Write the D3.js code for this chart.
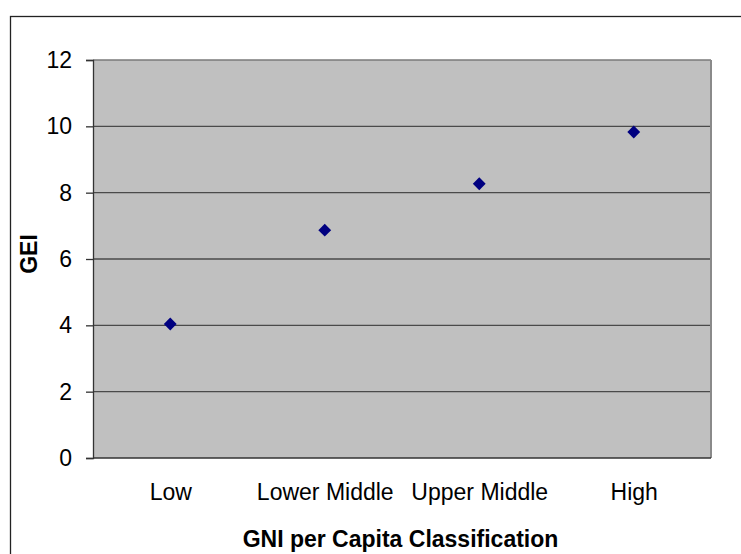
<!DOCTYPE html>
<html>
<head>
<meta charset="utf-8">
<script src="https://cdn.jsdelivr.net/npm/d3@7"></script>
<style>
  body { margin: 0; background: #fff; }
  svg { display: block; font-family: "Liberation Sans", Arial, sans-serif; }
</style>
</head>
<body>
<div id="chart"></div>
<script>
// data
const categories = ['Low', 'Lower Middle', 'Upper Middle', 'High'];
const geiValues = [4.04, 6.87, 8.27, 9.83];
const yTicks = [0, 2, 4, 6, 8, 10, 12];

const WIDTH = 741, HEIGHT = 554;
const PLOT = {left: 93, top: 60, right: 711, bottom: 458};

const svg = d3.select('#chart')
  .append('svg')
  .attr('width', WIDTH)
  .attr('height', HEIGHT);

// outer chart border (runs off the right and bottom of the window)
svg.append('rect')
  .attr('x', 10.5).attr('y', 16.5)
  .attr('width', 800).attr('height', 600)
  .attr('fill', '#fff')
  .attr('stroke', '#222')
  .attr('stroke-width', 1.3);

const xScale = d3.scalePoint()
  .domain(categories)
  .range([PLOT.left, PLOT.right])
  .padding(0.5);

const yScale = d3.scaleLinear()
  .domain([0, 12])
  .range([PLOT.bottom, PLOT.top]);

// plot area
svg.append('rect')
  .attr('x', PLOT.left).attr('y', PLOT.top)
  .attr('width', PLOT.right - PLOT.left)
  .attr('height', PLOT.bottom - PLOT.top)
  .attr('fill', '#c0c0c0');

// horizontal gridlines
svg.append('g')
  .selectAll('line')
  .data(yTicks.filter(d => d > 0 && d < 12))
  .enter()
  .append('line')
    .attr('x1', PLOT.left).attr('x2', PLOT.right)
    .attr('y1', d => yScale(d)).attr('y2', d => yScale(d))
    .attr('stroke', '#4a4a4a')
    .attr('stroke-width', 1.3);

// plot border top and right
svg.append('line')
  .attr('x1', PLOT.left).attr('x2', PLOT.right)
  .attr('y1', PLOT.top).attr('y2', PLOT.top)
  .attr('stroke', '#7a7a7a').attr('stroke-width', 1.3);
svg.append('line')
  .attr('x1', PLOT.right).attr('x2', PLOT.right)
  .attr('y1', PLOT.top).attr('y2', PLOT.bottom)
  .attr('stroke', '#8a8a8a').attr('stroke-width', 2);

// y axis
const yAxis = d3.axisLeft(yScale)
  .tickValues(yTicks)
  .tickSize(7)
  .tickPadding(14);

const yG = svg.append('g')
  .attr('transform', `translate(${PLOT.left}, 0)`)
  .call(yAxis);
yG.select('.domain').attr('stroke', '#333').attr('stroke-width', 1.3);
yG.selectAll('.tick line').attr('stroke', '#333').attr('stroke-width', 1.3);
yG.selectAll('.tick text')
  .attr('fill', '#000')
  .style('font-size', '23px')
  .style('font-family', '"Liberation Sans", Arial, sans-serif');

// x axis: baseline plus category labels, no ticks
const xAxis = d3.axisBottom(xScale)
  .tickSize(0)
  .tickPadding(26);

const xG = svg.append('g')
  .attr('transform', `translate(0, ${PLOT.bottom})`)
  .call(xAxis);
xG.select('.domain')
  .attr('d', `M${PLOT.left},0H${PLOT.right}`)
  .attr('stroke', '#333').attr('stroke-width', 1.3);
xG.selectAll('.tick text')
  .attr('fill', '#000')
  .style('font-size', '23px')
  .style('font-family', '"Liberation Sans", Arial, sans-serif');

// markers
const diamond = d3.symbol().type(d3.symbolDiamond2).size(105);
svg.append('g')
  .selectAll('path')
  .data(geiValues)
  .enter()
  .append('path')
    .attr('d', diamond)
    .attr('transform', (d, i) => `translate(${xScale(categories[i])}, ${yScale(d)})`)
    .attr('fill', '#000080');

// axis titles
svg.append('text')
  .attr('x', 400.5)
  .attr('y', 547)
  .attr('text-anchor', 'middle')
  .style('font-size', '23px')
  .style('font-weight', 'bold')
  .text('GNI per Capita Classification');

svg.append('text')
  .attr('transform', 'translate(37, 254) rotate(-90)')
  .attr('text-anchor', 'middle')
  .style('font-size', '23px')
  .style('font-weight', 'bold')
  .text('GEI');
</script>
</body>
</html>
